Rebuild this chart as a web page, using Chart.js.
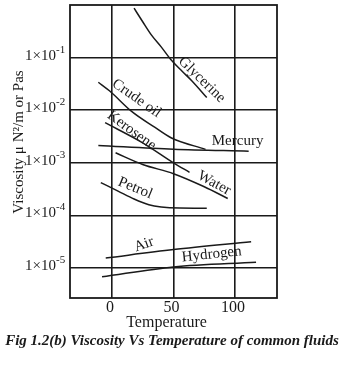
<!DOCTYPE html>
<html>
<head>
<meta charset="utf-8">
<script src="https://cdn.jsdelivr.net/npm/chart.js@4.4.0/dist/chart.umd.min.js"></script>
<style>
  html, body { margin: 0; padding: 0; background: #fff; }
  canvas { display: block; }
</style>
</head>
<body>
<canvas id="chart" width="351" height="366"></canvas>
<script>
// Values (temperature in deg C, viscosity in Pa s)
const glycerineT = [18, 25, 32, 40, 48, 57, 65, 77];
const glycerineV = [0.87, 0.48, 0.27, 0.16, 0.091, 0.055, 0.036, 0.0174];

const crudeT = [-11, -2, 16, 35, 48, 76];
const crudeV = [0.034, 0.0234, 0.0095, 0.0047, 0.0030, 0.0018];

const mercuryT = [-11, 50, 111];
const mercuryV = [0.00214, 0.00182, 0.00166];

const keroseneT = [-5.5, 25, 50, 63];
const keroseneV = [0.0058, 0.0024, 0.0010, 0.00066];

const waterT = [3, 25, 50, 75, 94];
const waterV = [0.00155, 0.00093, 0.00062, 0.00035, 0.00021];

const petrolT = [-9, 5, 18, 30, 40, 55, 77];
const petrolV = [0.00042, 0.00029, 0.000205, 0.000160, 0.000145, 0.000138, 0.000137];

const airT = [-5, 50, 113];
const airV = [0.0000155, 0.0000224, 0.0000316];

const hydrogenT = [-8, 50, 117];
const hydrogenV = [0.0000068, 0.0000105, 0.0000129];

// curve names, where they sit (temp, viscosity) and their slant in degrees
const labelNames = ['Glycerine', 'Crude oil', 'Kerosene', 'Mercury', 'Water', 'Petrol', 'Air', 'Hydrogen'];
const labelT = [73, 20, 16, 102, 83, 19, 26, 81];
const labelV = [0.038, 0.0168, 0.0041, 0.0026, 0.00041, 0.00033, 0.0000280, 0.0000182];
const labelAngle = [44, 35, 36, 0, 28, 22, -20, -6];

const xTicks = [0, 50, 100];
const yExponents = [-1, -2, -3, -4, -5];

const ink = '#1a1a1a';
const serif = "'Liberation Serif', 'DejaVu Serif', serif";

function pts(t, v) {
    return t.map((x, i) => ({ x: x, y: v[i] }));
}

function curve(t, v) {
    return {
        data: pts(t, v),
        borderColor: ink,
        borderWidth: 1.5,
        pointRadius: 0,
        fill: false,
        cubicInterpolationMode: 'monotone'
    };
}

// texts, outer frame and axis labels
const decorPlugin = {
    id: 'decor',
    afterDraw(chart) {
        const ctx = chart.ctx;
        const area = chart.chartArea;
        const xs = chart.scales.x;
        const ys = chart.scales.y;
        ctx.save();
        ctx.strokeStyle = ink;
        ctx.lineWidth = 1.8;
        ctx.strokeRect(area.left, area.top, area.right - area.left, area.bottom - area.top);

        ctx.fillStyle = ink;
        // y tick labels 1x10^n
        yExponents.forEach(e => {
            const py = ys.getPixelForValue(Math.pow(10, e));
            ctx.font = '15px ' + serif;
            ctx.textAlign = 'right';
            ctx.textBaseline = 'alphabetic';
            ctx.fillText('1×10', area.left - 14, py + 2);
            ctx.font = '11px ' + serif;
            ctx.textAlign = 'left';
            ctx.fillText(String(e), area.left - 14, py - 5);
        });

        // x tick labels
        ctx.font = '16px ' + serif;
        ctx.textAlign = 'center';
        ctx.textBaseline = 'middle';
        xTicks.forEach(t => {
            ctx.fillText(String(t), xs.getPixelForValue(t) - 2, area.bottom + 10);
        });

        // axis titles
        ctx.fillText('Temperature', (area.left + area.right) / 2 - 7, area.bottom + 25);
        ctx.save();
        ctx.translate(19, 142);
        ctx.rotate(-Math.PI / 2);
        ctx.font = '15px ' + serif;
        ctx.fillText('Viscosity μ N²/m or Pas', 0, 0);
        ctx.restore();

        // caption
        ctx.font = 'italic bold 15px ' + serif;
        ctx.fillText('Fig 1.2(b) Viscosity Vs Temperature of common fluids', 172, area.bottom + 43);

        // curve names
        ctx.font = '15px ' + serif;
        labelNames.forEach((name, i) => {
            ctx.save();
            ctx.translate(xs.getPixelForValue(labelT[i]), ys.getPixelForValue(labelV[i]));
            ctx.rotate(labelAngle[i] * Math.PI / 180);
            ctx.fillText(name, 0, 0);
            ctx.restore();
        });
        ctx.restore();
    }
};

new Chart(document.getElementById('chart'), {
    type: 'line',
    data: {
        datasets: [
            curve(glycerineT, glycerineV),
            curve(crudeT, crudeV),
            curve(mercuryT, mercuryV),
            curve(keroseneT, keroseneV),
            curve(waterT, waterV),
            curve(petrolT, petrolV),
            curve(airT, airV),
            curve(hydrogenT, hydrogenV)
        ]
    },
    options: {
        responsive: false,
        animation: false,
        devicePixelRatio: 1,
        layout: { padding: { left: 70, right: 74, top: 5, bottom: 68 } },
        scales: {
            x: {
                type: 'linear',
                min: -34,
                max: 134,
                afterBuildTicks: axis => { axis.ticks = xTicks.map(v => ({ value: v })); },
                ticks: { display: false },
                grid: { color: ink, lineWidth: 1.6, drawTicks: false },
                border: { display: false }
            },
            y: {
                type: 'logarithmic',
                min: Math.pow(10, -5.57),
                max: 1,
                afterBuildTicks: axis => { axis.ticks = yExponents.map(e => ({ value: Math.pow(10, e) })); },
                ticks: { display: false },
                grid: { color: ink, lineWidth: 1.6, drawTicks: false },
                border: { display: false }
            }
        },
        plugins: {
            legend: { display: false },
            tooltip: { enabled: false }
        }
    },
    plugins: [decorPlugin]
});
</script>
</body>
</html>
